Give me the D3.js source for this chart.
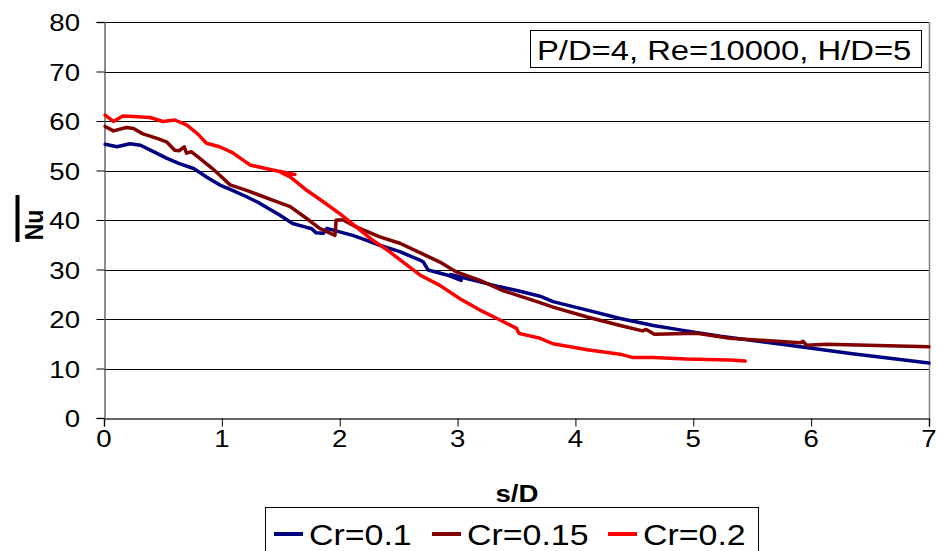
<!DOCTYPE html>
<html>
<head>
<meta charset="utf-8">
<script src="https://cdn.jsdelivr.net/npm/d3@7"></script>
<style>
  body { margin: 0; background: #fff; }
  text { font-family: "Liberation Sans", Arial, sans-serif; fill: #000; }
</style>
</head>
<body>
<div id="container"></div>
<script>

// data
var seriesNames = ["Cr=0.1", "Cr=0.15", "Cr=0.2"];
var seriesColors = ["#000080", "#800000", "#ff0000"];

var s_cr01  = [0.01,0.11,0.22,0.31,0.42,0.53,0.64,0.76,0.87,0.98,1.09,1.21,1.32,1.49,1.60,1.72,1.76,1.80,1.86,1.89,2.00,2.11,2.23,2.34,2.51,2.68,2.71,2.75,2.91,3.03,2.94,3.19,3.36,3.53,3.70,3.81,4.10,4.38,4.66,4.94,5.23,5.91,6.35,7.0];
var nu_cr01 = [55.3,54.8,55.4,55.1,53.8,52.5,51.4,50.4,48.7,47.1,46.0,44.7,43.4,41.0,39.3,38.5,38.3,37.4,37.3,38.3,37.6,36.9,35.9,34.9,33.6,31.9,31.5,29.9,28.9,27.8,29.0,27.5,26.5,25.6,24.6,23.5,21.8,20.1,18.7,17.6,16.5,14.4,13.0,11.1];

var s_cr015  = [0.01,0.08,0.19,0.25,0.33,0.45,0.53,0.60,0.64,0.68,0.70,0.74,0.81,0.92,0.98,1.07,1.21,1.32,1.43,1.58,1.72,1.83,1.96,1.97,2.03,2.14,2.34,2.51,2.68,2.85,2.99,3.19,3.39,3.70,3.81,4.10,4.38,4.57,4.60,4.67,5.03,5.31,5.91,5.93,5.96,6.13,7.0];
var nu_cr015 = [58.9,58.0,58.7,58.5,57.4,56.5,55.8,54.1,54.0,54.8,53.5,53.8,52.5,50.4,49.1,47.1,46.0,45.0,44.0,42.7,40.3,38.3,36.9,40.0,40.0,38.6,36.6,35.3,33.4,31.5,29.5,27.8,25.7,23.3,22.4,20.4,18.7,17.6,17.9,16.9,17.1,16.1,15.2,15.5,14.7,14.9,14.4];

var s_cr02  = [0.01,0.08,0.16,0.25,0.39,0.50,0.60,0.70,0.79,0.87,0.98,1.09,1.18,1.24,1.43,1.62,1.50,1.58,1.72,1.86,2.00,2.14,2.28,2.40,2.51,2.68,2.85,3.02,3.19,3.36,3.50,3.52,3.70,3.81,4.10,4.38,4.49,4.66,4.94,5.31,5.44];
var nu_cr02 = [61.2,59.9,61.0,60.9,60.7,59.9,60.2,59.2,57.5,55.5,54.8,53.6,52.1,51.1,50.1,49.2,49.6,48.7,46.0,43.7,41.3,38.6,35.9,34.0,32.0,28.9,26.8,24.1,21.8,19.8,18.1,17.1,16.1,15.0,13.8,12.9,12.2,12.2,11.9,11.7,11.5];

var xTicks = [0,1,2,3,4,5,6,7];
var yTicks = [0,10,20,30,40,50,60,70,80];
var note = "P/D=4, Re=10000, H/D=5";

var allS = [s_cr01, s_cr015, s_cr02];
var allNu = [nu_cr01, nu_cr015, nu_cr02];

// the original chart is stretched sideways a little, so text is too
var stretch = 1.15;

createVis();

function placeText(sel, x, y) {
    return sel.attr("transform", "translate(" + x + "," + y + ") scale(" + stretch + ",1)");
}

function createVis() {
    var W = 937, H = 551;
    var margin = {top: 22, right: 8, bottom: 133, left: 104};
    var width = W - margin.left - margin.right,
        height = H - margin.top - margin.bottom;

    var svg = d3.select("div#container")
      .append("svg")
      .attr("width", W)
      .attr("height", H);

    var g = svg.append("g")
      .attr("transform", "translate(" + margin.left + "," + margin.top + ")");

    var x = d3.scaleLinear().domain([0, 7]).range([0, width]);
    var y = d3.scaleLinear().domain([0, 80]).range([height, 0]);

    // horizontal grid
    g.selectAll("line.grid")
      .data(yTicks.filter(function(d) { return d > 0; }))
      .enter()
      .append("line")
      .attr("class", "grid")
      .attr("x1", 0)
      .attr("x2", width)
      .attr("y1", function(d) { return Math.round(y(d)) + 0.5; })
      .attr("y2", function(d) { return Math.round(y(d)) + 0.5; })
      .attr("stroke", "#000")
      .attr("stroke-width", 1);

    // right border
    g.append("line")
      .attr("x1", width + 0.5).attr("x2", width + 0.5)
      .attr("y1", y(80)).attr("y2", height)
      .attr("stroke", "#808080")
      .attr("stroke-width", 1.5);

    // axes
    var xAxis = g.append("g")
      .attr("transform", "translate(0," + (Math.round(height) + 0.5) + ")")
      .call(d3.axisBottom(x).tickValues(xTicks).tickSize(8).tickFormat(""));
    var yAxis = g.append("g")
      .attr("transform", "translate(0.5,0)")
      .call(d3.axisLeft(y).tickValues(yTicks).tickSize(8).tickFormat(""));
    xAxis.select(".domain").attr("stroke", "#333").attr("stroke-width", 1.5);
    yAxis.select(".domain").attr("stroke", "#666").attr("stroke-width", 1.5);
    svg.selectAll(".tick line").attr("stroke", "#000");

    // tick labels
    g.selectAll("text.xlab")
      .data(xTicks)
      .enter()
      .append("text")
      .attr("class", "xlab")
      .attr("text-anchor", "middle")
      .style("font-size", "24px")
      .each(function(d) { placeText(d3.select(this), x(d), height + 29); })
      .text(function(d) { return d; });

    g.selectAll("text.ylab")
      .data(yTicks)
      .enter()
      .append("text")
      .attr("class", "ylab")
      .attr("text-anchor", "end")
      .style("font-size", "24px")
      .each(function(d) { placeText(d3.select(this), -24, y(d) + 9); })
      .text(function(d) { return d; });

    // the curves
    var line = d3.line()
      .x(function(d) { return x(d[0]); })
      .y(function(d) { return y(d[1]); });

    allS.forEach(function(sArr, i) {
        var pts = sArr.map(function(s, j) { return [s, allNu[i][j]]; });
        g.append("path")
          .datum(pts)
          .attr("d", line)
          .attr("fill", "none")
          .attr("stroke", seriesColors[i])
          .attr("stroke-width", 3.5)
          .attr("stroke-linejoin", "round")
          .attr("stroke-linecap", "round");
    });

    // note box
    svg.append("rect")
      .attr("x", 530.5).attr("y", 30.5)
      .attr("width", 391).attr("height", 37)
      .attr("fill", "#fff")
      .attr("stroke", "#000")
      .attr("stroke-width", 1);
    placeText(svg.append("text"), 537, 60)
      .style("font-size", "28.5px")
      .text(note);

    // axis titles
    placeText(svg.append("text"), 517, 502)
      .attr("text-anchor", "middle")
      .style("font-size", "24px")
      .style("font-weight", "bold")
      .text("s/D");

    svg.append("text")
      .attr("transform", "translate(43,225) rotate(-90) scale(1,1.15)")
      .attr("text-anchor", "middle")
      .style("font-size", "23px")
      .style("font-weight", "bold")
      .text("Nu");
    svg.append("line")
      .attr("x1", 17.5).attr("x2", 17.5)
      .attr("y1", 195).attr("y2", 242)
      .attr("stroke", "#000")
      .attr("stroke-width", 4);

    // legend
    var lg = svg.append("g");
    lg.append("rect")
      .attr("x", 265.5).attr("y", 507.5)
      .attr("width", 493).attr("height", 60)
      .attr("fill", "#fff")
      .attr("stroke", "#000")
      .attr("stroke-width", 1);
    var legX = [274, 432, 608];
    seriesNames.forEach(function(name, i) {
        lg.append("line")
          .attr("x1", legX[i]).attr("x2", legX[i] + 29)
          .attr("y1", 534).attr("y2", 534)
          .attr("stroke", seriesColors[i])
          .attr("stroke-width", 4);
        placeText(lg.append("text"), legX[i] + 35, 545)
          .style("font-size", "29.5px")
          .text(name);
    });
}

</script>
</body>
</html>
